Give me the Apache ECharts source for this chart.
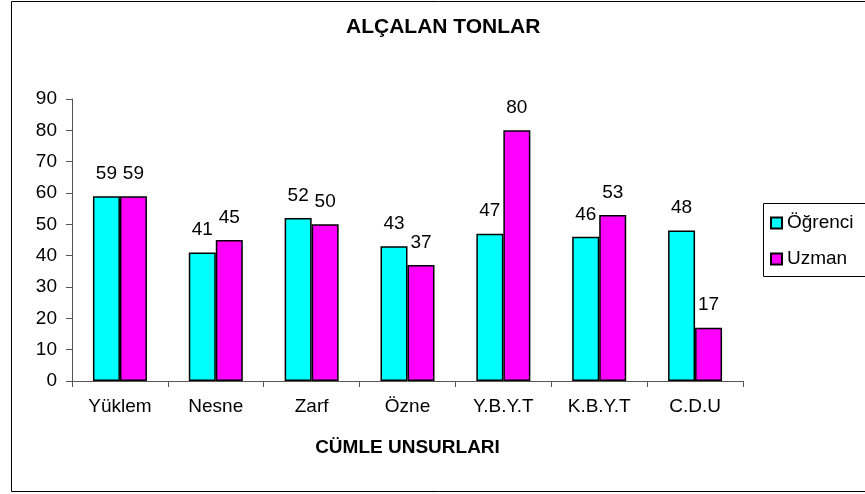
<!DOCTYPE html>
<html>
<head>
<meta charset="utf-8">
<script src="https://cdn.jsdelivr.net/npm/echarts@6/dist/echarts.min.js"></script>
<style>
  html, body { margin: 0; padding: 0; background: #fff; }
  #chart { width: 865px; height: 494px; }
</style>
</head>
<body>
<div id="chart"></div>
<script>
// kategoriler ve seriler
var categories = ['Yüklem', 'Nesne', 'Zarf', 'Özne', 'Y.B.Y.T', 'K.B.Y.T', 'C.D.U'];
var ogrenci = [59, 41, 52, 43, 47, 46, 48];
var uzman = [59, 45, 50, 37, 80, 53, 17];
var yTicks = { min: 0, max: 90, interval: 10 };

var fontFam = '"Liberation Sans", Arial, sans-serif';
var chart = echarts.init(document.getElementById('chart'));

var barLabel = {
    show: true,
    position: 'top',
    distance: 13,
    color: '#000',
    fontSize: 19,
    fontFamily: fontFam
};

var option = {
    animation: false,
    backgroundColor: '#fff',
    textStyle: { fontFamily: fontFam },
    // dış çerçeve + lejant kutusu (sağ kenarı görüntünün dışında)
    graphic: [{
        type: 'polyline',
        shape: { points: [[870, 1.5], [11.5, 1.5], [11.5, 491.5], [870, 491.5]] },
        style: { fill: 'none', stroke: '#000', lineWidth: 1 },
        silent: true
    }, {
        type: 'polyline',
        shape: { points: [[870, 203.5], [763.5, 203.5], [763.5, 276.5], [870, 276.5]] },
        style: { fill: 'none', stroke: '#000', lineWidth: 1 },
        silent: true
    }],
    title: {
        text: 'ALÇALAN TONLAR',
        left: 346,
        top: 17,
        padding: 0,
        textStyle: { fontSize: 21, fontWeight: 'bold', color: '#000', fontFamily: fontFam }
    },
    legend: {
        orient: 'vertical',
        left: 763,
        top: 203,
        padding: [10, 10, 7, 7],
        itemWidth: 11,
        itemHeight: 11,
        itemGap: 16,
        icon: 'rect',
        textStyle: { fontSize: 19, color: '#000', fontFamily: fontFam, lineHeight: 20 },
        data: ['Öğrenci', 'Uzman']
    },
    grid: { left: 72, right: 122, top: 99, bottom: 113, containLabel: false },
    xAxis: {
        type: 'category',
        data: categories,
        name: 'CÜMLE UNSURLARI',
        nameLocation: 'middle',
        nameGap: 57,
        nameTextStyle: { fontSize: 19, fontWeight: 'bold', color: '#000', fontFamily: fontFam },
        axisLine: { lineStyle: { color: '#555', width: 1 } },
        axisTick: { show: true, length: 6, lineStyle: { color: '#555' } },
        axisLabel: { margin: 16, fontSize: 19, color: '#000', fontFamily: fontFam },
        splitLine: { show: false }
    },
    yAxis: {
        type: 'value',
        min: yTicks.min,
        max: yTicks.max,
        interval: yTicks.interval,
        axisLine: { show: true, lineStyle: { color: '#555', width: 1 } },
        axisTick: { show: true, length: 6, lineStyle: { color: '#555' } },
        axisLabel: { margin: 15, fontSize: 19, color: '#000', fontFamily: fontFam },
        splitLine: { show: false }
    },
    series: [
        {
            name: 'Öğrenci',
            type: 'bar',
            data: ogrenci,
            barWidth: 27,
            barGap: '0%',
            itemStyle: { color: '#00FFFF', borderColor: '#000', borderWidth: 1.5 },
            label: barLabel
        },
        {
            name: 'Uzman',
            type: 'bar',
            data: uzman,
            barWidth: 27,
            itemStyle: { color: '#FF00FF', borderColor: '#000', borderWidth: 1.5 },
            label: barLabel
        }
    ]
};

chart.setOption(option);
</script>
</body>
</html>
